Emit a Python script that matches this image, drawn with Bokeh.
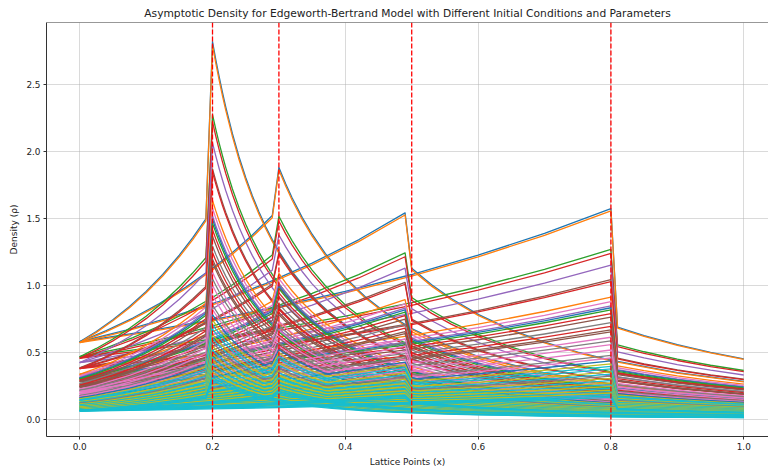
from bokeh.plotting import figure
from bokeh.models import ColumnDataSource, Span, FixedTicker, Range1d, PrintfTickFormatter
from bokeh.embed import file_html
from bokeh.resources import INLINE

# ---------------- data ----------------
lattice_points = [0.2, 0.3, 0.5, 0.8]

shape02_x = [0.0, 0.025, 0.05, 0.075, 0.1, 0.125, 0.15, 0.17, 0.19,
             0.2, 0.205, 0.21, 0.215, 0.22, 0.23, 0.24, 0.25, 0.26, 0.27, 0.28, 0.29, 0.3,
             0.32, 0.34, 0.36, 0.38, 0.4, 0.43, 0.46, 0.5, 0.55, 0.6, 0.7, 0.8, 0.9, 1.0]
shape02_y = [1.0, 1.133, 1.284, 1.455, 1.649, 1.868, 2.117, 2.340, 2.586,
             4.875, 4.640, 4.422, 4.219, 4.029, 3.686, 3.385, 3.12, 2.885, 2.675, 2.487, 2.319, 2.167,
             1.904, 1.687, 1.505, 1.350, 1.219, 1.055, 0.922, 0.78, 0.645, 0.542, 0.398, 0.305, 0.241, 0.195]

shape03_x = [0.0, 0.04, 0.08, 0.12, 0.16, 0.2, 0.23, 0.26, 0.29,
             0.3, 0.31, 0.32, 0.335, 0.35, 0.37, 0.4, 0.43, 0.46, 0.5, 0.55, 0.6, 0.7, 0.8, 0.9, 1.0]
shape03_y = [1.0, 1.143, 1.306, 1.492, 1.705, 1.948, 2.153, 2.379, 2.629,
             3.25, 3.044, 2.856, 2.606, 2.388, 2.137, 1.828, 1.582, 1.382, 1.17, 0.967, 0.8125, 0.597, 0.457, 0.361, 0.2925]

shape05_x = [0.0, 0.07, 0.14, 0.21, 0.28, 0.35, 0.42, 0.49,
             0.5, 0.53, 0.56, 0.6, 0.65, 0.7, 0.75, 0.8, 0.9, 1.0]
shape05_y = [1.0, 1.150, 1.323, 1.522, 1.751, 2.014, 2.316, 2.664,
             1.95, 1.736, 1.555, 1.354, 1.154, 0.995, 0.867, 0.762, 0.602, 0.4875]

shape08_x = [0.0, 0.1, 0.2, 0.3, 0.4, 0.5, 0.6, 0.7, 0.8,
             0.81, 0.85, 0.9, 0.95, 1.0]
shape08_y = [1.0, 1.133, 1.284, 1.455, 1.649, 1.868, 2.117, 2.399, 2.718,
             1.189, 1.080, 0.963, 0.864, 0.78]

# density at x = 0 for each run (initial condition / parameter set)
levels = [0.578, 0.572, 0.466, 0.455, 0.423, 0.383, 0.378, 0.335, 0.323, 0.311,
          0.306, 0.300, 0.29, 0.28, 0.265, 0.255, 0.245, 0.24, 0.225, 0.215,
          0.205, 0.19, 0.175, 0.168, 0.16, 0.152, 0.145, 0.138, 0.13, 0.124,
          0.118, 0.112, 0.106, 0.10, 0.095, 0.09, 0.085, 0.08, 0.076, 0.072,
          0.068, 0.064, 0.06]
level_color_idx = [0, 1, 2, 3, 4, 5, 3, 1, 6, 4,
                   0, 2, 3, 5, 7, 3, 5, 5, 6, 7,
                   6, 6, 7, 6, 0, 8, 9, 9, 8, 9,
                   7, 8, 9, 8, 9, 8, 9, 8, 9, 8,
                   9, 9, 9]

x_ticks = [0.0, 0.2, 0.4, 0.6, 0.8, 1.0]
y_ticks = [0.0, 0.5, 1.0, 1.5, 2.0, 2.5]

title_text = "Asymptotic Density for Edgeworth-Bertrand Model with Different Initial Conditions and Parameters"
x_label = "Lattice Points (x)"
y_label = "Density (\u03c1)"

# ---------------- build ----------------
tab10 = ['#1f77b4', '#ff7f0e', '#2ca02c', '#d62728', '#9467bd',
         '#8c564b', '#e377c2', '#7f7f7f', '#bcbd22', '#17becf']
shapes = [(shape02_x, shape02_y), (shape03_x, shape03_y),
          (shape05_x, shape05_y), (shape08_x, shape08_y)]

xs, ys, cols = [], [], []
for lev, ci in zip(levels, level_color_idx):
    for sx, sy in shapes:
        xs.append(list(sx))
        ys.append([lev * v for v in sy])
        cols.append(tab10[ci])

FONT = "DejaVu Sans"
p = figure(width=768, height=469, output_backend="svg", toolbar_location=None,
           x_range=Range1d(-0.05, 1.0373), y_range=Range1d(-0.129, 2.96),
           min_border_left=46, min_border_right=0, min_border_top=22, min_border_bottom=33,
           title=title_text)
p.background_fill_color = "white"
p.border_fill_color = "white"
p.outline_line_color = None

p.title.align = "center"
p.title.text_font = FONT
p.title.text_font_size = "10.7px"
p.title.text_font_style = "normal"
p.title.text_color = "#222222"
p.title.standoff = 5

src = ColumnDataSource(dict(xs=xs, ys=ys, color=cols))
p.multi_line("xs", "ys", source=src, line_color="color", line_width=1.3, line_join="round")

for c in lattice_points:
    p.add_layout(Span(location=c, dimension="height", line_color="red",
                      line_dash="5 2", line_width=1.3))
p.add_layout(Span(location=2.96, dimension="width", line_color="#333333", line_width=1))

p.xaxis.ticker = FixedTicker(ticks=x_ticks)
p.yaxis.ticker = FixedTicker(ticks=y_ticks)
p.xaxis.formatter = PrintfTickFormatter(format="%.1f")
p.yaxis.formatter = PrintfTickFormatter(format="%.1f")
p.xaxis.axis_label = x_label
p.yaxis.axis_label = y_label
for ax in (p.xaxis, p.yaxis):
    ax.axis_label_text_font = FONT
    ax.axis_label_text_font_size = "9px"
    ax.axis_label_text_font_style = "normal"
    ax.axis_label_text_color = "#222222"
    ax.major_label_text_font = FONT
    ax.major_label_text_font_size = "8.9px"
    ax.major_label_text_color = "#222222"
    ax.major_tick_out = 3
    ax.major_tick_in = 0
    ax.minor_tick_line_color = None
    ax.major_label_standoff = 3
    ax.axis_label_standoff = 4
    ax.axis_line_color = "#333333"
    ax.major_tick_line_color = "#333333"

p.xgrid.grid_line_color = "#b0b0b0"
p.ygrid.grid_line_color = "#b0b0b0"
p.xgrid.grid_line_alpha = 0.6
p.ygrid.grid_line_alpha = 0.6
p.xgrid.grid_line_width = 0.8
p.ygrid.grid_line_width = 0.8

open("out.html", "w").write(file_html(p, INLINE))
